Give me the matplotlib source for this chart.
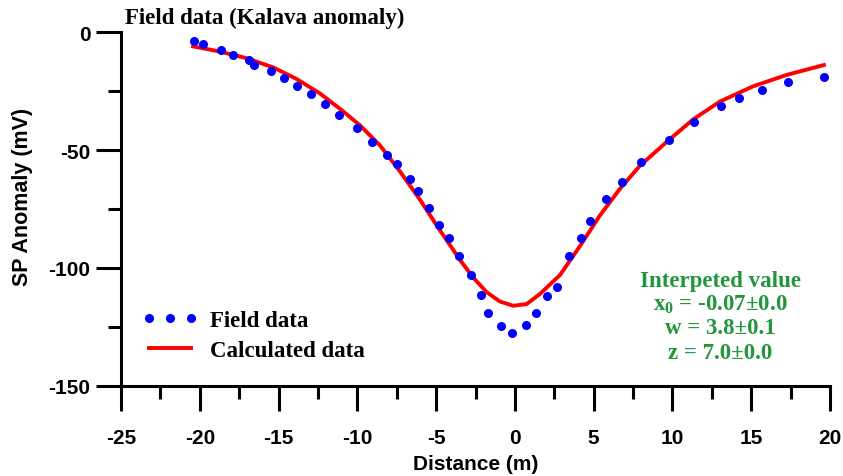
import matplotlib
matplotlib.use("Agg")
import matplotlib.pyplot as plt
from matplotlib.ticker import MultipleLocator

# field data
field_x = [-20.37, -19.78, -18.68, -17.88, -16.88, -16.57, -15.47, -14.64, -13.82, -12.95,
           -12.08, -11.19, -10.05, -9.10, -8.14, -7.47, -6.66, -6.14, -5.48, -4.80,
           -4.17, -3.55, -2.79, -2.18, -1.73, -0.91, -0.17, 0.68, 1.33, 2.01,
           2.68, 3.45, 4.17, 4.76, 5.78, 6.81, 7.98, 9.77, 11.38, 13.07,
           14.22, 15.70, 17.31, 19.61]
field_y = [-3.7, -5.1, -7.8, -9.6, -11.9, -14.0, -16.5, -19.6, -22.8, -26.1,
           -30.4, -35.2, -40.6, -46.4, -52.0, -55.8, -62.3, -67.2, -74.6, -81.9,
           -87.3, -94.9, -102.8, -111.6, -118.9, -124.4, -127.5, -124.2, -119.2, -111.7,
           -107.9, -94.8, -87.3, -80.2, -70.8, -63.4, -54.9, -45.8, -38.3, -31.5,
           -28.1, -24.4, -21.3, -18.9]

# calculated (model) curve
calc_x = [-20.42, -18.72, -17.03, -15.34, -13.86, -12.38, -11.11, -9.84, -8.57, -7.30,
          -6.03, -4.76, -3.49, -2.65, -1.80, -0.95, -0.11, 0.74, 1.59, 2.86,
          4.13, 5.39, 6.66, 7.93, 9.63, 11.32, 13.01, 15.12, 17.24, 19.61]
calc_y = [-6.1, -8.3, -11.1, -15.0, -19.9, -26.0, -32.5, -39.5, -48.0, -59.0,
          -71.0, -84.0, -96.5, -104.0, -110.2, -114.2, -116.0, -115.3, -111.0, -103.0,
          -90.7, -77.8, -66.5, -56.7, -46.6, -37.0, -29.5, -23.0, -18.2, -14.0]

interp_lines = ["Interpeted value",
                r"x$_{\mathbf{0}}$ = -0.07±0.0",
                "w = 3.8±0.1",
                "z = 7.0±0.0"]

plt.rcParams["axes.unicode_minus"] = False
plt.rcParams["mathtext.fontset"] = "custom"
plt.rcParams["mathtext.rm"] = "Liberation Serif:bold"
plt.rcParams["mathtext.bf"] = "Liberation Serif:bold"
plt.rcParams["mathtext.it"] = "Liberation Serif:bold"

sans = "Liberation Sans"
serif = "Liberation Serif"
green = "#22963c"

fig = plt.figure(figsize=(8.43, 4.77), dpi=100)
ax = fig.add_axes([121 / 843, 1 - 387 / 477, (830 - 121) / 843, (387 - 33) / 477])

ax.plot(field_x, field_y, "o", color="#0000ff", markersize=6.5, markeredgewidth=0,
        label="Field data", zorder=3)
ax.plot(calc_x, calc_y, "-", color="#ff0000", lw=2.8, label="Calculated data", zorder=2)

ax.set_xlim(-25, 20)
ax.set_ylim(-150, 0)
ax.xaxis.set_major_locator(MultipleLocator(5))
ax.xaxis.set_minor_locator(MultipleLocator(2.5))
ax.yaxis.set_major_locator(MultipleLocator(50))
ax.yaxis.set_minor_locator(MultipleLocator(25))

for s in ["top", "right"]:
    ax.spines[s].set_visible(False)
for s in ["left", "bottom"]:
    ax.spines[s].set_linewidth(2.2)

ax.tick_params(which="major", length=18, width=2.2, direction="out")
ax.tick_params(which="minor", length=9.5, width=2.2, direction="out")
ax.tick_params(axis="x", which="major", pad=12)
ax.tick_params(axis="y", which="major", pad=4)
for lab in ax.get_xticklabels() + ax.get_yticklabels():
    lab.set_fontfamily(sans)
    lab.set_fontweight("bold")
    lab.set_fontsize(15)

ax.set_xlabel("Distance (m)", fontfamily=sans, fontweight="bold", fontsize=15, labelpad=5)
ax.set_ylabel("SP Anomaly (mV)", fontfamily=sans, fontweight="bold", fontsize=15.5)
ax.yaxis.set_label_coords(-0.124, 0.537)

fig.text(125 / 843, 1 - 18 / 477, "Field data (Kalava anomaly)", fontfamily=serif,
         fontweight="bold", fontsize=16.5, va="center", ha="left")

leg = ax.legend(loc="upper left", bbox_to_anchor=(142 / 843, 1 - 311 / 477),
                bbox_transform=fig.transFigure, frameon=False, numpoints=3,
                handlelength=2.45, handletextpad=0.5, labelspacing=0.4,
                borderpad=0, borderaxespad=0,
                prop={"family": serif, "weight": "bold", "size": 16.5})

ys = [281, 305, 329, 354]
for t, yy in zip(interp_lines, ys):
    fig.text(720 / 843, 1 - yy / 477, t, color=green, fontfamily=serif,
             fontweight="bold", fontsize=16.5, ha="center", va="center")

fig.savefig("out.png", dpi=100)
